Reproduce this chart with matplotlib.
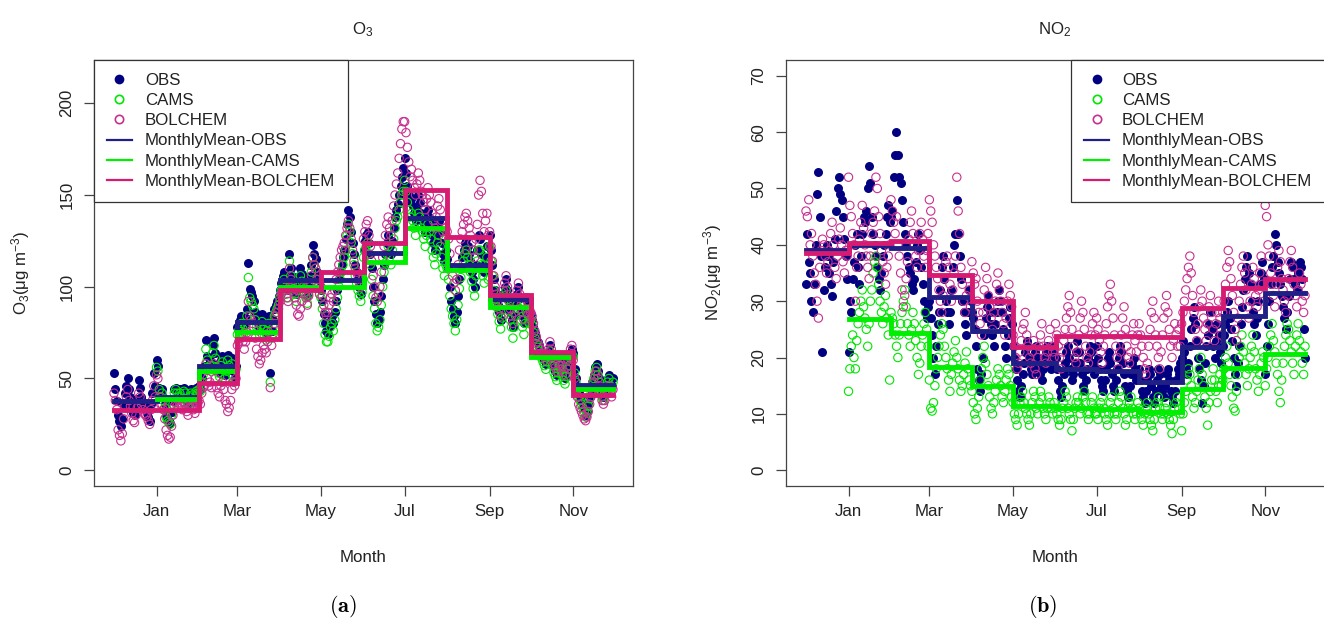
import numpy as np
import matplotlib
matplotlib.use("Agg")
import matplotlib.pyplot as plt
from matplotlib.lines import Line2D

plt.rcParams['font.family'] = ['Liberation Sans', 'DejaVu Sans']
plt.rcParams['mathtext.fontset'] = 'custom'
plt.rcParams['mathtext.rm'] = 'Liberation Sans'
plt.rcParams['mathtext.it'] = 'Liberation Sans:italic'
plt.rcParams['mathtext.bf'] = 'Liberation Sans:bold'

# day index: 0 = 1 Dec, months Dec..Nov
month_start = [0, 31, 62, 90, 121, 151, 182, 212, 243, 274, 304, 335]
last_day = 364
month_ticks = [31, 90, 151, 212, 274, 335]
month_labels = ['Jan', 'Mar', 'May', 'Jul', 'Sep', 'Nov']

# ---------------- O3 daily values (one list per month, Dec..Nov)
o3_obs = [
    [53, 44, 38, 30, 27, 24, 28, 35, 42, 46, 50, 44, 40, 36, 31, 30, 34, 39, 49, 45, 40, 37, 35, 33, 31, 29, 27, 36, 42, 53, 46],
    [60, 57, 45, 42, 44, 40, 36, 30, 28, 27, 26, 32, 38, 44, 45, 43, 41, 44, 42, 40, 45, 43, 38, 36, 41, 44, 42, 40, 38, 45, 43],
    [46, 44, 50, 55, 57, 71, 62, 58, 60, 56, 68, 72, 64, 58, 55, 53, 60, 62, 58, 52, 56, 63, 60, 58, 61, 54, 50, 57],
    [78, 80, 82, 84, 81, 79, 83, 88, 113, 99, 97, 95, 92, 86, 82, 80, 78, 83, 85, 81, 77, 75, 80, 84, 53, 76, 82, 88, 90, 92, 95],
    [98, 102, 106, 108, 104, 100, 98, 118, 110, 106, 103, 100, 96, 102, 106, 110, 107, 104, 101, 99, 95, 100, 106, 112, 123, 118, 115, 108, 104, 100],
    [98, 92, 85, 80, 76, 74, 78, 82, 84, 80, 86, 92, 98, 104, 108, 112, 116, 120, 126, 134, 142, 138, 130, 124, 118, 112, 108, 104, 100, 96, 102],
    [120, 125, 128, 130, 124, 118, 110, 100, 92, 85, 80, 82, 86, 95, 104, 112, 118, 124, 128, 122, 118, 125, 132, 138, 142, 145, 150, 155, 160, 165],
    [170, 162, 155, 150, 146, 148, 144, 140, 136, 142, 150, 146, 140, 138, 134, 130, 136, 142, 138, 134, 128, 124, 120, 126, 132, 136, 130, 124, 118, 114, 120],
    [115, 110, 100, 92, 88, 84, 80, 86, 95, 104, 110, 116, 120, 124, 126, 122, 118, 114, 108, 104, 100, 112, 120, 128, 126, 118, 112, 108, 116, 122, 110],
    [128, 120, 112, 104, 98, 94, 90, 86, 82, 88, 96, 100, 104, 98, 92, 86, 82, 78, 84, 90, 96, 100, 94, 88, 84, 80, 86, 92, 90, 86],
    [85, 82, 78, 75, 72, 70, 68, 66, 64, 62, 60, 58, 62, 65, 68, 64, 60, 56, 54, 52, 56, 60, 58, 55, 52, 50, 54, 58, 60, 64, 66],
    [64, 55, 50, 46, 42, 40, 38, 36, 34, 30, 32, 36, 40, 44, 48, 52, 56, 58, 54, 50, 46, 42, 40, 44, 48, 50, 52, 48, 46, 50],
]
o3_cams = [
    [],
    [56, 54, 44, 40, 42, 38, 34, 29, 27, 26, 25, 30, 36, 42, 44, 42, 40, 42, 40, 39, 43, 42, 37, 35, 40, 42, 41, 39, 37, 43, 42],
    [44, 43, 48, 52, 55, 66, 60, 56, 57, 54, 64, 68, 61, 56, 53, 51, 57, 59, 55, 50, 54, 60, 57, 55, 58, 52, 48, 55],
    [74, 76, 78, 80, 77, 75, 79, 84, 105, 94, 92, 90, 88, 82, 78, 76, 74, 79, 81, 77, 73, 71, 76, 80, 48, 72, 78, 84, 86, 88, 90],
    [94, 98, 102, 104, 100, 96, 94, 114, 106, 102, 99, 96, 92, 98, 102, 106, 103, 100, 97, 95, 91, 96, 102, 108, 116, 112, 110, 104, 100, 96],
    [94, 88, 80, 74, 70, 70, 73, 78, 80, 76, 82, 88, 94, 100, 104, 108, 112, 116, 120, 128, 134, 130, 124, 118, 112, 106, 102, 98, 95, 92, 97],
    [116, 120, 122, 124, 118, 112, 104, 95, 88, 80, 76, 78, 82, 90, 100, 108, 113, 118, 122, 116, 112, 120, 126, 132, 136, 138, 142, 146, 150, 152],
    [158, 152, 146, 142, 138, 140, 136, 132, 128, 134, 140, 138, 132, 130, 126, 122, 128, 134, 130, 126, 120, 116, 112, 118, 124, 128, 122, 116, 110, 106, 112],
    [110, 104, 95, 88, 84, 80, 76, 82, 90, 99, 105, 110, 114, 118, 120, 116, 112, 108, 103, 99, 95, 106, 114, 120, 120, 112, 106, 102, 110, 116, 104],
    [122, 114, 106, 98, 93, 89, 85, 81, 77, 83, 91, 95, 98, 93, 87, 82, 78, 72, 78, 84, 90, 94, 88, 82, 78, 74, 80, 86, 85, 80],
    [82, 79, 75, 72, 69, 67, 65, 63, 61, 59, 57, 55, 59, 62, 65, 61, 57, 53, 51, 49, 53, 57, 55, 52, 49, 47, 51, 55, 57, 61, 62],
    [62, 53, 48, 44, 40, 38, 36, 34, 32, 29, 31, 35, 39, 43, 47, 50, 54, 56, 52, 48, 44, 40, 38, 42, 46, 48, 50, 46, 44, 48],
]
o3_bol = [
    [42, 38, 33, 22, 19, 16, 20, 28, 35, 40, 44, 38, 35, 31, 27, 26, 30, 34, 42, 40, 36, 33, 31, 30, 29, 27, 25, 33, 38, 46, 40],
    [52, 50, 40, 36, 36, 33, 28, 22, 19, 17, 18, 24, 30, 35, 37, 35, 34, 36, 35, 33, 37, 36, 32, 30, 34, 36, 35, 33, 31, 37, 36],
    [38, 36, 42, 45, 46, 58, 50, 46, 48, 45, 55, 58, 50, 45, 42, 40, 46, 48, 44, 38, 36, 32, 34, 38, 44, 48, 46, 50],
    [68, 70, 72, 74, 70, 66, 70, 75, 92, 84, 82, 80, 78, 72, 66, 62, 58, 60, 64, 68, 66, 64, 70, 75, 45, 68, 74, 80, 84, 86, 88],
    [92, 96, 100, 102, 98, 94, 92, 110, 104, 100, 97, 94, 90, 85, 84, 88, 92, 100, 96, 94, 90, 95, 100, 106, 116, 112, 110, 104, 100, 96],
    [100, 95, 90, 86, 84, 86, 90, 94, 96, 92, 98, 104, 108, 112, 116, 120, 122, 124, 128, 132, 136, 132, 126, 120, 114, 110, 108, 106, 102, 100, 104],
    [126, 130, 134, 136, 128, 122, 114, 106, 100, 94, 92, 96, 100, 108, 116, 122, 128, 134, 138, 132, 128, 136, 144, 150, 156, 162, 170, 178, 186, 190],
    [190, 184, 176, 168, 160, 164, 158, 154, 150, 156, 162, 158, 152, 150, 146, 142, 148, 154, 150, 146, 140, 136, 132, 138, 144, 148, 142, 136, 130, 126, 132],
    [130, 126, 118, 110, 106, 102, 98, 104, 112, 120, 126, 130, 134, 138, 140, 136, 132, 128, 124, 120, 116, 126, 134, 150, 158, 152, 140, 130, 136, 140, 128],
    [130, 122, 114, 106, 100, 96, 92, 88, 84, 90, 98, 102, 106, 100, 94, 88, 84, 80, 86, 92, 98, 102, 96, 90, 86, 82, 88, 94, 92, 88],
    [86, 84, 80, 76, 73, 70, 68, 66, 64, 63, 62, 60, 64, 66, 70, 66, 62, 58, 56, 54, 58, 62, 60, 57, 54, 52, 56, 60, 62, 66, 68],
    [60, 50, 44, 40, 36, 34, 32, 30, 28, 27, 29, 32, 36, 40, 44, 48, 52, 54, 50, 46, 42, 38, 36, 38, 42, 44, 46, 42, 40, 44],
]
o3_mm_obs = [37.8, 39.8, 57, 81, 103.5, 103.5, 118.5, 137.6, 112, 93.5, 64, 46.5]
o3_mm_cams = [None, 38.7, 54, 75.5, 100, 100, 113.7, 132, 109, 89, 61.5, 44.3]
o3_mm_bol = [32.8, 32.8, 47.8, 71.5, 98.5, 108, 124, 152.5, 127, 95.6, 64.5, 41]

# ---------------- NO2 daily values
no2_obs = [
    [33, 42, 37, 35, 30, 28, 33, 40, 49, 53, 45, 38, 21, 32, 36, 40, 38, 35, 33, 31, 37, 41, 46, 50, 52, 49, 48, 45, 41, 38, 34],
    [21, 30, 28, 34, 37, 40, 42, 36, 33, 38, 42, 45, 44, 46, 50, 54, 51, 45, 42, 40, 38, 36, 34, 32, 35, 38, 40, 42, 45, 47, 44],
    [45, 46, 52, 56, 60, 56, 52, 51, 48, 44, 42, 40, 38, 36, 35, 33, 32, 34, 37, 40, 42, 39, 36, 33, 30, 28, 27, 29],
    [30, 27, 24, 20, 17, 22, 26, 28, 32, 36, 38, 34, 30, 28, 26, 28, 32, 36, 40, 42, 48, 42, 38, 34, 30, 28, 26, 24, 28, 32, 30],
    [28, 27, 25, 22, 18, 16, 14, 17, 20, 24, 27, 29, 31, 28, 26, 24, 22, 26, 28, 30, 32, 30, 28, 25, 22, 20, 24, 27, 29, 26],
    [22, 20, 18, 16, 14, 13, 15, 17, 19, 21, 23, 22, 20, 18, 17, 19, 21, 22, 20, 18, 17, 16, 18, 20, 21, 22, 20, 19, 18, 21, 22],
    [20, 18, 16, 14, 13, 15, 17, 19, 21, 22, 20, 18, 16, 17, 19, 21, 23, 21, 19, 17, 15, 14, 16, 18, 20, 22, 21, 19, 17, 18],
    [22, 20, 18, 16, 15, 14, 16, 18, 20, 21, 19, 17, 15, 14, 16, 18, 20, 22, 21, 19, 17, 15, 14, 13, 15, 17, 19, 20, 18, 16, 17],
    [18, 16, 14, 13, 12, 14, 16, 18, 17, 15, 13, 12, 14, 16, 18, 17, 15, 14, 13, 15, 17, 18, 16, 14, 13, 12, 14, 16, 18, 17, 19],
    [20, 23, 21, 18, 17, 19, 22, 25, 27, 29, 26, 23, 20, 18, 16, 12, 15, 19, 22, 24, 26, 28, 25, 22, 20, 23, 26, 24, 21, 19],
    [22, 24, 26, 28, 30, 27, 25, 23, 20, 17, 15, 19, 22, 26, 29, 32, 34, 36, 38, 35, 33, 30, 28, 26, 24, 27, 30, 33, 35, 37, 34],
    [17, 22, 26, 30, 33, 36, 38, 42, 40, 37, 35, 33, 31, 29, 27, 25, 28, 31, 34, 37, 36, 34, 33, 32, 35, 37, 36, 34, 25, 20],
]
no2_cams = [
    [],
    [14, 18, 22, 24, 20, 18, 23, 26, 28, 30, 32, 29, 27, 25, 22, 26, 30, 32, 35, 37, 38, 36, 33, 30, 28, 26, 29, 31, 27, 24, 16],
    [28, 27, 26, 24, 22, 20, 24, 26, 28, 30, 32, 29, 26, 24, 22, 25, 28, 26, 23, 20, 17, 19, 22, 24, 26, 28, 25, 22],
    [16, 11, 10.5, 12, 15, 18, 20, 22, 24, 26, 25, 22, 20, 18, 16, 14, 17, 19, 21, 23, 20, 18, 16, 14, 15, 17, 19, 21, 18, 16, 15],
    [14, 12, 10, 9, 11, 13, 16, 18, 20, 22, 19, 17, 15, 13, 11, 10, 12, 14, 16, 18, 17, 15, 13, 12, 14, 16, 18, 17, 15, 13],
    [12, 10, 9, 8, 10, 12, 13, 14, 12, 11, 10, 9, 8, 10, 12, 14, 13, 11, 10, 12, 14, 13, 11, 10, 9, 11, 13, 12, 11, 10, 12],
    [11, 10, 9, 8, 9, 11, 12, 14, 13, 11, 10, 9, 7, 9, 11, 12, 13, 12, 10, 11, 13, 14, 12, 10, 9, 10, 12, 13, 11, 10],
    [10, 9, 11, 12, 13, 11, 10, 9, 8, 10, 12, 13, 11, 10, 9, 10, 12, 14, 13, 11, 10, 8, 9, 11, 12, 13, 11, 10, 9, 10, 12],
    [11, 10, 9, 8, 10, 11, 12, 10, 9, 8, 7, 9, 11, 12, 13, 11, 10, 9, 10, 11, 12, 10, 9, 8, 6.5, 9, 11, 12, 13, 11, 10],
    [7, 10, 12, 14, 16, 18, 17, 15, 13, 11, 12, 14, 16, 18, 20, 17, 15, 13, 11, 8, 12, 14, 16, 18, 16, 14, 12, 15, 17, 15],
    [16, 18, 20, 22, 19, 17, 15, 13, 11, 10.5, 14, 17, 20, 22, 24, 21, 19, 17, 15, 18, 20, 22, 24, 21, 18, 16, 14, 17, 19, 21, 20],
    [15, 18, 20, 22, 24, 26, 23, 21, 19, 17, 14, 12, 16, 19, 22, 24, 26, 25, 23, 21, 19, 17, 22, 24, 26, 23, 21, 19, 17, 22],
]
no2_bol = [
    [46, 45, 48, 40, 42, 38, 35, 33, 30, 27, 36, 39, 41, 40, 38, 35, 37, 39, 42, 44, 40, 36, 34, 38, 41, 43, 40, 37, 35, 39, 38],
    [52, 47, 45, 42, 40, 30, 36, 38, 41, 44, 47, 43, 40, 38, 36, 34, 38, 42, 44, 46, 52, 50, 45, 42, 39, 37, 35, 33, 36, 38, 40],
    [48, 46, 44, 42, 45, 40, 38, 35, 32, 29, 31, 34, 37, 41, 44, 46, 42, 40, 38, 36, 39, 42, 44, 41, 38, 36, 39, 42],
    [48, 46, 44, 40, 38, 36, 34, 32, 30, 28, 31, 34, 37, 38, 36, 33, 30, 32, 35, 38, 52, 46, 42, 36, 33, 30, 28, 31, 34, 32, 29],
    [37, 35, 33, 34, 30, 28, 26, 24, 28, 32, 36, 34, 31, 29, 27, 25, 28, 30, 33, 35, 32, 30, 28, 26, 24, 27, 30, 33, 31, 29],
    [24, 22, 20, 18, 19, 21, 23, 25, 26, 28, 24, 22, 20, 19, 21, 23, 18, 17, 20, 22, 24, 26, 22, 20, 19, 21, 23, 25, 22, 21, 20],
    [26, 24, 22, 20, 18, 21, 23, 25, 27, 29, 31, 28, 25, 22, 20, 19, 21, 24, 27, 30, 28, 25, 22, 20, 19, 21, 24, 26, 28, 24],
    [27, 25, 23, 21, 19, 22, 24, 26, 29, 31, 33, 30, 27, 24, 22, 20, 18, 21, 24, 27, 29, 25, 22, 20, 19, 21, 24, 26, 23, 21, 24],
    [26, 24, 22, 20, 18, 17, 19, 22, 25, 28, 30, 27, 24, 22, 20, 18, 21, 24, 27, 29, 31, 28, 25, 22, 20, 23, 26, 24, 22, 25, 22],
    [26, 28, 30, 32, 34, 36, 38, 35, 31, 28, 25, 23, 26, 29, 32, 30, 27, 25, 23, 26, 29, 31, 28, 25, 23, 26, 28, 30, 27, 24],
    [28, 30, 33, 36, 39, 37, 34, 31, 28, 25, 23, 27, 30, 33, 36, 38, 35, 32, 29, 27, 30, 33, 36, 34, 31, 29, 32, 35, 38, 33, 30],
    [47, 45, 40, 38, 35, 33, 31, 29, 33, 36, 39, 37, 34, 32, 30, 28, 31, 34, 37, 39, 36, 33, 31, 29, 32, 35, 33, 30, 28, 31],
]
no2_mm_obs = [39.0, 39.9, 39.4, 30.8, 24.7, 19.0, 17.9, 17.6, 15.6, 21.8, 27.4, 31.5]
no2_mm_cams = [None, 26.9, 24.4, 18.3, 15.0, 11.4, 11.1, 10.9, 10.4, 14.4, 18.2, 20.7]
no2_mm_bol = [38.5, 40.3, 40.6, 34.7, 30.0, 21.8, 23.8, 23.8, 23.6, 28.8, 32.3, 34.0]

c_obs = '#000080'
c_cams = '#00e600'
c_bol = '#c8308f'
c_mm_obs = '#1f1f85'
c_mm_cams = '#00ee00'
c_mm_bol = '#d81b72'
fs = 12.2


def flatten(monthly):
    xs, ys = [], []
    for m, vals in enumerate(monthly):
        for d, v in enumerate(vals):
            xs.append(month_start[m] + d)
            ys.append(v)
    return np.array(xs), np.array(ys)


def step_line(ax, means, color):
    xs, ys = [], []
    for m, v in enumerate(means):
        if v is None:
            continue
        xs.append(month_start[m])
        ys.append(v)
    xs.append(last_day)
    ys.append(ys[-1])
    ax.plot(xs, ys, drawstyle='steps-post', color=color, lw=3.5, zorder=5,
            solid_joinstyle='miter')


def panel(ax, obs, cams, bol, mm_obs, mm_cams, mm_bol, ylim, yticks, ylabel, loc):
    x, y = flatten(obs)
    ax.scatter(x, y, s=42, color=c_obs, linewidths=0, zorder=2)
    x, y = flatten(cams)
    ax.scatter(x, y, s=36, facecolors='none', edgecolors=c_cams, linewidths=0.8, zorder=3)
    x, y = flatten(bol)
    ax.scatter(x, y, s=36, facecolors='none', edgecolors=c_bol, linewidths=0.8, zorder=4)
    step_line(ax, mm_obs, c_mm_obs)
    step_line(ax, mm_cams, c_mm_cams)
    step_line(ax, mm_bol, c_mm_bol)

    ax.set_xlim(-14.6, 378.6)
    ax.set_ylim(*ylim)
    ax.set_xticks(month_ticks)
    ax.set_xticklabels(month_labels)
    ax.set_yticks(yticks)
    ax.set_yticklabels([str(t) for t in yticks], rotation=90, va='center')
    ax.tick_params(length=7.2, width=0.9, color='#444444', labelsize=fs,
                   labelcolor='#222222')
    ax.tick_params(axis='x', pad=6)
    ax.tick_params(axis='y', pad=7)
    for s in ax.spines.values():
        s.set_color('#444444')
        s.set_linewidth(0.9)

    ax.set_xlabel('Month', fontsize=fs, color='#222222', va='center')
    ax.xaxis.set_label_coords(0.5, -0.169)
    ax.set_ylabel(ylabel, fontsize=fs, color='#222222', va='center')
    ax.yaxis.set_label_coords(-0.137, 0.5)

    handles = [
        Line2D([], [], ls='none', marker='o', markersize=7, color=c_obs, markeredgewidth=0),
        Line2D([], [], ls='none', marker='o', markersize=6, markerfacecolor='none',
               markeredgecolor=c_cams, markeredgewidth=1.2),
        Line2D([], [], ls='none', marker='o', markersize=6, markerfacecolor='none',
               markeredgecolor=c_bol, markeredgewidth=1.2),
        Line2D([], [], color=c_mm_obs, lw=1.6),
        Line2D([], [], color=c_mm_cams, lw=1.6),
        Line2D([], [], color=c_mm_bol, lw=1.6),
    ]
    labels = ['OBS', 'CAMS', 'BOLCHEM', 'MonthlyMean-OBS', 'MonthlyMean-CAMS',
              'MonthlyMean-BOLCHEM']
    anchor = (0, 1) if loc == 'upper left' else (1, 1)
    leg = ax.legend(handles, labels, loc=loc, bbox_to_anchor=anchor, borderaxespad=0,
                    fontsize=fs, frameon=True, fancybox=False, framealpha=1,
                    edgecolor='#333333', handlelength=1.5, handletextpad=0.75,
                    labelspacing=0.31, borderpad=0.75)
    leg.get_frame().set_linewidth(0.9)
    leg.set_zorder(10)
    for t in leg.get_texts():
        t.set_color('#222222')


fig = plt.figure(figsize=(13.24, 6.29), dpi=100)
W, H = 1324.0, 629.0
ax1 = fig.add_axes([94 / W, 1 - 486 / H, 539 / W, 426 / H])
ax2 = fig.add_axes([786 / W, 1 - 486 / H, 539 / W, 426 / H])

panel(ax1, o3_obs, o3_cams, o3_bol, o3_mm_obs, o3_mm_cams, o3_mm_bol,
      (-8.6, 223.6), [0, 50, 100, 150, 200], 'O$_3$(μg m$^{-3}$)', 'upper left')
panel(ax2, no2_obs, no2_cams, no2_bol, no2_mm_obs, no2_mm_cams, no2_mm_bol,
      (-2.8, 72.8), [0, 10, 20, 30, 40, 50, 60, 70], 'NO$_2$(μg m$^{-3}$)', 'upper right')

fig.text(363 / W, 1 - 30 / H, 'O$_3$', ha='center', va='center', fontsize=fs, color='#222222')
fig.text(1055 / W, 1 - 30 / H, 'NO$_2$', ha='center', va='center', fontsize=fs, color='#222222')

fig.text(343 / W, 1 - 606 / H, r'$(\mathbf{a})$', ha='center', va='center', fontsize=16,
         math_fontfamily='cm')
fig.text(1043 / W, 1 - 606 / H, r'$(\mathbf{b})$', ha='center', va='center', fontsize=16,
         math_fontfamily='cm')

fig.savefig('out.png', dpi=100)
